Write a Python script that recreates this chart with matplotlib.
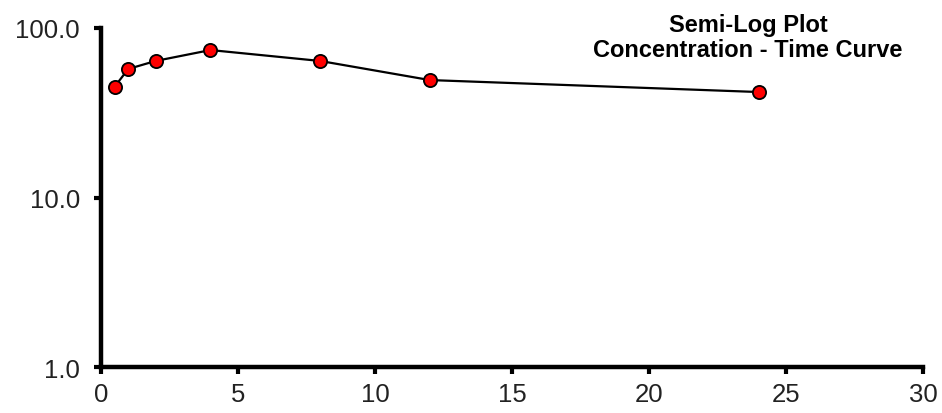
import numpy as np
import matplotlib.pyplot as plt
from matplotlib.ticker import FixedLocator, FixedFormatter

plt.rcParams['font.family'] = ['Liberation Sans', 'DejaVu Sans']

# Data
time = [0.5, 1, 2, 4, 8, 12, 24]
conc = [44.9, 57.3, 63.9, 74.1, 63.9, 49.3, 41.9]
y_ticks = [1, 10, 100]
y_labels = ['1.0', '10.0', '100.0']
x_ticks = [0, 5, 10, 15, 20, 25, 30]

fig = plt.figure(figsize=(9.42, 4.14), dpi=100)
ax = fig.add_axes([0.107, 0.111, 0.873, 0.819])

ax.plot(time, conc, color='black', linewidth=1.6, marker='o',
        markersize=9.5, markerfacecolor='red', markeredgecolor='black',
        markeredgewidth=1.3, clip_on=False, zorder=3)

ax.set_yscale('log')
ax.set_xlim(0, 30)
ax.set_ylim(1, 100)
ax.yaxis.set_major_locator(FixedLocator(y_ticks))
ax.yaxis.set_major_formatter(FixedFormatter(y_labels))
ax.yaxis.set_minor_locator(FixedLocator([]))
ax.set_xticks(x_ticks)
ax.set_xticklabels([str(v) for v in x_ticks])

for side in ['top', 'right']:
    ax.spines[side].set_visible(False)
for side in ['left', 'bottom']:
    ax.spines[side].set_linewidth(3.2)
ax.tick_params(axis='both', which='major', direction='out', length=5,
               width=3, labelsize=18.5, colors='black', labelcolor='#222222')
ax.tick_params(axis='y', pad=10)
ax.tick_params(axis='x', pad=6)

fig.text(0.794, 0.967, 'Semi-Log Plot\nConcentration - Time Curve',
         ha='center', va='top', fontsize=17, fontweight='bold',
         multialignment='center', linespacing=1.15)

fig.savefig('out.png', dpi=100)
